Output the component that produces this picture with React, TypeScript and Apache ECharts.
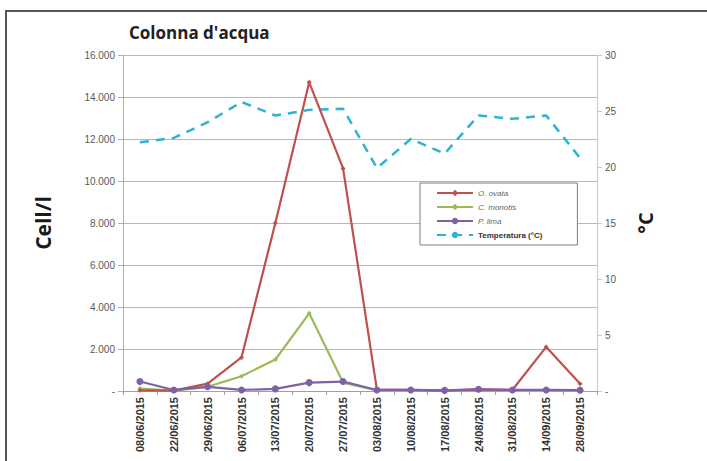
import React, { useEffect, useRef } from "react";
import * as echarts from "echarts";

const dates = [
  "08/06/2015", "22/06/2015", "29/06/2015", "06/07/2015", "13/07/2015", "20/07/2015", "27/07/2015",
  "03/08/2015", "10/08/2015", "17/08/2015", "24/08/2015", "31/08/2015", "14/09/2015", "28/09/2015",
];
const ovata = [30, 20, 350, 1600, 8000, 14700, 10600, 50, 50, 20, 80, 50, 2100, 350];
const monotis = [120, 20, 200, 700, 1500, 3700, 400, 30, 30, 20, 60, 30, 30, 30];
const lima = [450, 50, 200, 50, 100, 400, 450, 50, 50, 30, 80, 50, 50, 40];
const temperatura = [22.2, 22.6, 24.0, 25.8, 24.6, 25.1, 25.2, 19.9, 22.5, 21.2, 24.6, 24.3, 24.6, 20.8];

const seriesNames = ["O. ovata", "C. monotis", "P. lima", "Temperatura (°C)"];

export default function App() {
  const ref = useRef<HTMLDivElement>(null);
  useEffect(() => {
    document.body.style.margin = "0";
    const chart = echarts.init(ref.current!, null, { renderer: "svg" });
    const fmtLeft = (v: number) =>
      v === 0 ? "-" : v.toLocaleString("de-DE", { minimumFractionDigits: 3 }).replace(/,000$/, "");
    chart.setOption({
      animation: false,
      backgroundColor: "#ffffff",
      textStyle: { fontFamily: "Open Sans" },
      title: {
        text: "Colonna d'acqua",
        left: 124,
        top: 19,
        textStyle: { fontSize: 17, fontWeight: "bold", color: "#222222", fontFamily: "Open Sans" },
      },
      graphic: [
        {
          type: "rect",
          shape: { x: 6, y: 11, width: 720, height: 470 },
          style: { fill: "none", stroke: "#555555", lineWidth: 2 },
          silent: true,
        },
      ],
      grid: { left: 123, right: 110, top: 55, bottom: 70, containLabel: false },
      legend: {
        orient: "vertical",
        left: 420,
        top: 183,
        padding: [6, 35, 6, 16],
        borderColor: "#7f7f7f",
        borderWidth: 1,
        backgroundColor: "#ffffff",
        itemWidth: 36,
        itemHeight: 8,
        itemGap: 6,
        textStyle: { fontSize: 8, color: "#666666", fontFamily: "Liberation Sans" },
        data: [
          { name: seriesNames[0], textStyle: { fontStyle: "italic" } },
          { name: seriesNames[1], textStyle: { fontStyle: "italic" } },
          { name: seriesNames[2], textStyle: { fontStyle: "italic" } },
          { name: seriesNames[3], textStyle: { fontWeight: "bold", color: "#333333" } },
        ],
      },
      xAxis: {
        type: "category",
        data: dates,
        boundaryGap: true,
        axisLine: { lineStyle: { color: "#a0a0a0" } },
        axisTick: { show: true, alignWithLabel: false, length: 4, lineStyle: { color: "#a0a0a0" } },
        axisLabel: {
          rotate: 90,
          interval: 0,
          fontSize: 11,
          fontWeight: "bold",
          color: "#333333",
          margin: 6,
          fontFamily: "Liberation Sans",
        },
      },
      yAxis: [
        {
          type: "value",
          min: 0,
          max: 16000,
          interval: 2000,
          name: "Cell/l",
          nameLocation: "middle",
          nameGap: 70,
          nameRotate: 90,
          nameTextStyle: { fontSize: 21, fontWeight: "bold", color: "#1a1a1a", fontFamily: "Open Sans" },
          axisLine: { show: true, lineStyle: { color: "#b0b0b0" } },
          axisTick: { show: true, length: 5, lineStyle: { color: "#b0b0b0" } },
          axisLabel: { formatter: fmtLeft, fontSize: 10, color: "#595959", margin: 8, fontFamily: "Liberation Sans" },
          splitLine: { show: true, lineStyle: { color: "#b8b8b8", width: 1 } },
        },
        {
          type: "value",
          min: 0,
          max: 30,
          interval: 5,
          position: "right",
          name: "°C",
          nameLocation: "middle",
          nameGap: 38,
          nameRotate: 90,
          nameTextStyle: { fontSize: 20, fontWeight: "bold", color: "#1a1a1a", fontFamily: "Open Sans" },
          axisLine: { show: true, lineStyle: { color: "#c8c8c8" } },
          axisTick: { show: true, length: 5, lineStyle: { color: "#c8c8c8" } },
          axisLabel: {
            formatter: (v: number) => (v === 0 ? "-" : String(v)),
            fontSize: 10,
            color: "#595959",
            margin: 8,
            fontFamily: "Liberation Sans",
          },
          splitLine: { show: false },
        },
      ],
      series: [
        {
          name: seriesNames[0],
          type: "line",
          data: ovata,
          yAxisIndex: 0,
          color: "#c0504d",
          symbol: "diamond",
          symbolSize: 5,
          lineStyle: { width: 2.2, color: "#c0504d" },
          itemStyle: { color: "#c0504d" },
          z: 3,
        },
        {
          name: seriesNames[1],
          type: "line",
          data: monotis,
          yAxisIndex: 0,
          color: "#9bbb59",
          symbol: "diamond",
          symbolSize: 5,
          lineStyle: { width: 2.2, color: "#9bbb59" },
          itemStyle: { color: "#9bbb59" },
          z: 2,
        },
        {
          name: seriesNames[2],
          type: "line",
          data: lima,
          yAxisIndex: 0,
          color: "#7e62a6",
          symbol: "circle",
          symbolSize: 7,
          lineStyle: { width: 2.2, color: "#7e62a6" },
          itemStyle: { color: "#7e62a6" },
          z: 4,
        },
        {
          name: seriesNames[3],
          type: "line",
          data: temperatura,
          yAxisIndex: 1,
          color: "#2fb4d0",
          symbol: "none",
          lineStyle: { width: 2.5, color: "#2fb4d0", type: [9, 7] },
          itemStyle: { color: "#2fb4d0" },
          z: 1,
        },
      ],
    });
    return () => chart.dispose();
  }, []);
  return <div ref={ref} style={{ position: "absolute", left: 0, top: 0, width: 707, height: 461 }} />;
}
